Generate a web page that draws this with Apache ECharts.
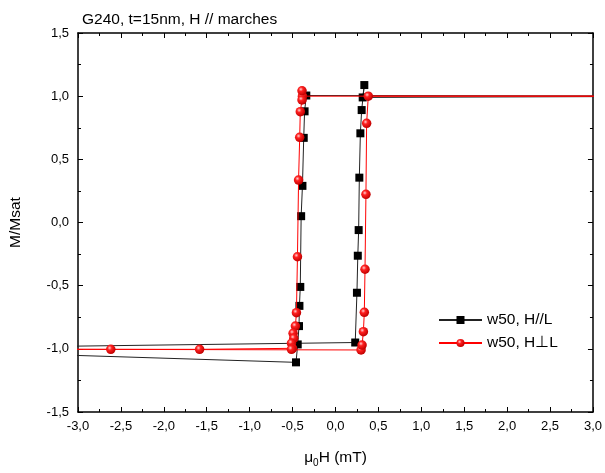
<!DOCTYPE html>
<html>
<head>
<meta charset="utf-8">
<script src="https://cdn.jsdelivr.net/npm/echarts@6/dist/echarts.min.js"></script>
<style>html,body{margin:0;padding:0;background:#fff}#c{width:605px;height:473px}</style>
</head>
<body>
<div id="c"></div>
<script>
// Series: w50, H//L (black squares)
const blackX = [5.45, -0.34, -0.36, -0.37, -0.385, -0.40, -0.41, -0.42, -0.425, -0.44, -0.46, -5.45, 0.23, 0.25, 0.26, 0.27, 0.278, 0.29, 0.305, 0.336, 0.317, 5.45];
const blackY = [1.0, 1.005, 0.88, 0.67, 0.29, 0.05, -0.51, -0.66, -0.82, -0.965, -1.107, -1.0, -0.95, -0.556, -0.263, -0.06, 0.355, 0.706, 0.89, 1.088, 0.99, 1.002];
// Series: w50, H⊥L (red spheres)
const redX = [5.45, -0.385, -0.39, -0.39, -0.41, -0.417, -0.43, -0.443, -0.455, -0.467, -0.494, -0.486, -0.513, -0.50, -0.513, -1.583, -2.618, -3.65, -4.7, -5.45, 0.298, 0.31, 0.325, 0.336, 0.344, 0.355, 0.363, 0.382, 5.45];
const redY = [1.0, 1.0, 1.043, 0.97, 0.877, 0.674, 0.336, -0.271, -0.714, -0.82, -0.877, -0.917, -0.956, -0.996, -1.004, -1.004, -1.004, -1.004, -1.004, -1.0, -1.009, -0.97, -0.864, -0.711, -0.37, 0.223, 0.785, 1.0, 1.0];
const seriesNames = ['w50, H//L', 'w50, H\u22A5L'];
const titleText = 'G240, t=15nm, H // marches';
const xRange = [-3, 3], yRange = [-1.5, 1.5];

const zip = (xs, ys) => xs.map((x, i) => [x, ys[i]]);
const fmt = v => v.toFixed(1).replace('.', ',');
const font = 'Liberation Sans, Arial, sans-serif';

const chart = echarts.init(document.getElementById('c'), null, {renderer: 'canvas'});
const axisCommon = {
  axisLine: {show: true, onZero: false, lineStyle: {color: '#000', width: 1.5}},
  axisTick: {show: true, inside: true, length: 5, lineStyle: {color: '#000', width: 1}},
  minorTick: {show: true, splitNumber: 2, length: 3, lineStyle: {color: '#000', width: 1}},
  splitLine: {show: false}
};
const redGrad = {type: 'radial', x: 0.38, y: 0.35, r: 0.65, colorStops: [
  {offset: 0, color: '#ffd0d0'}, {offset: 0.35, color: '#ff2020'}, {offset: 1, color: '#c00000'}]};

chart.setOption({
  animation: false,
  backgroundColor: '#fff',
  title: {text: titleText, left: 77, top: 7, textStyle: {fontFamily: font, fontSize: 15.5, fontWeight: 'normal', color: '#000'}},
  grid: {left: 77, right: 10, top: 33, bottom: 61, containLabel: false},
  legend: {
    data: seriesNames, orient: 'vertical', left: 433, top: 307, itemGap: 7,
    itemWidth: 43, itemHeight: 10,
    textStyle: {fontFamily: font, fontSize: 15.5, color: '#000'}
  },
  xAxis: [
    Object.assign({type: 'value', min: xRange[0], max: xRange[1], interval: 0.5, position: 'bottom',
      axisLabel: {formatter: fmt, fontFamily: font, fontSize: 13, color: '#000', margin: 8},
      name: '{a|\u03BC}{s|0}{a|H (mT)}', nameLocation: 'middle', nameGap: 36,
      nameTextStyle: {rich: {a: {fontFamily: font, fontSize: 15.5, color: '#000'}, s: {fontFamily: font, fontSize: 10, color: '#000', padding: [10, 0, 0, 0]}}}
    }, axisCommon),
    Object.assign({type: 'value', min: xRange[0], max: xRange[1], interval: 0.5, position: 'top', axisLabel: {show: false}}, axisCommon)
  ],
  yAxis: [
    Object.assign({type: 'value', min: yRange[0], max: yRange[1], interval: 0.5, position: 'left',
      axisLabel: {formatter: fmt, fontFamily: font, fontSize: 13, color: '#000', margin: 9},
      name: 'M/Msat', nameLocation: 'middle', nameGap: 54,
      nameTextStyle: {fontFamily: font, fontSize: 15.5, color: '#000'}
    }, axisCommon),
    Object.assign({type: 'value', min: yRange[0], max: yRange[1], interval: 0.5, position: 'right', axisLabel: {show: false}}, axisCommon)
  ],
  series: [
    {name: seriesNames[0], type: 'line', data: zip(blackX, blackY), symbol: 'rect', symbolSize: 8,
      lineStyle: {color: '#222', width: 1}, itemStyle: {color: '#000'}, clip: true, z: 2},
    {name: seriesNames[1], type: 'line', data: zip(redX, redY), symbol: 'circle', symbolSize: 9.5,
      lineStyle: {color: '#ff0000', width: 1}, itemStyle: {color: redGrad}, clip: true, z: 3}
  ]
});
</script>
</body>
</html>
